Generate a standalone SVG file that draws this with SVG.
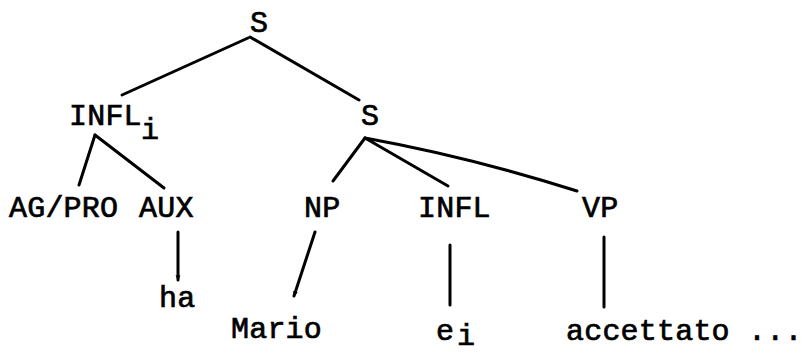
<svg xmlns="http://www.w3.org/2000/svg" width="803" height="353" viewBox="0 0 803 353">
<style>
text{font-family:"Liberation Mono","DejaVu Sans Mono",monospace;font-size:30px;letter-spacing:0.2px;fill:#000;stroke:#000;stroke-width:0.7px}
.e{fill:none;stroke:#000;stroke-width:3;stroke-linecap:round;stroke-linejoin:round}
</style>
<defs>
<marker id="tip" viewBox="0 0 10 10" refX="8" refY="5" markerWidth="6" markerHeight="6" orient="auto" markerUnits="userSpaceOnUse">
<path d="M0,1 L10,5 L0,9 Z" fill="#000"/>
</marker>
</defs>
<g id="connectors">
<path class="e" d="M248,38 L122,95"/>
<path class="e" d="M250,37 L359,100"/>
<path class="e" d="M95,135 L79,185"/>
<path class="e" d="M95,135 L164,188"/>
<path class="e" d="M365,138 L333,181"/>
<path class="e" d="M365,138 L448,186"/>
<path class="e" d="M365,138 Q470,157 577,191"/>
<path class="e" d="M178,232 L178,280" marker-end="url(#tip)"/>
<path class="e" d="M315,232 L294,296" marker-end="url(#tip)"/>
<path class="e" d="M450,245 L450,305"/>
<path class="e" d="M604,237 L604,307"/>
</g>
<g id="S_top"><text x="250" y="32">S</text></g>
<g id="INFL_i"><text x="69" y="125">INFL</text><text x="141" y="139">i</text></g>
<g id="S_low"><text x="361" y="125">S</text></g>
<g id="AG_PRO"><text x="9" y="217">AG/PRO</text></g>
<g id="AUX"><text x="139" y="217">AUX</text></g>
<g id="NP"><text x="304" y="217">NP</text></g>
<g id="INFL"><text x="418" y="217">INFL</text></g>
<g id="VP"><text x="582" y="217">VP</text></g>
<g id="ha"><text x="159" y="307">ha</text></g>
<g id="Mario"><text x="231" y="338">Mario</text></g>
<g id="e_i"><text x="436" y="340">e</text><text x="457" y="345">i</text></g>
<g id="accettato"><text x="566" y="340">accettato ...</text></g>
</svg>
